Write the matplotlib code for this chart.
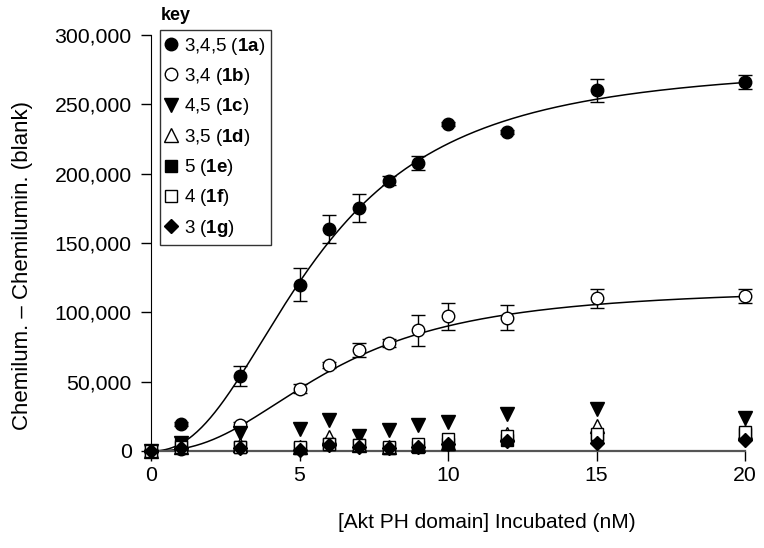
import numpy as np
import matplotlib
matplotlib.use("Agg")
import matplotlib.pyplot as plt
from matplotlib.ticker import StrMethodFormatter
from matplotlib.lines import Line2D

plt.rcParams['font.family'] = ['Liberation Sans', 'DejaVu Sans']
plt.rcParams['mathtext.fontset'] = 'custom'
plt.rcParams['mathtext.rm'] = 'Liberation Sans'
plt.rcParams['mathtext.bf'] = 'Liberation Sans:bold'

conc = [0, 1, 3, 5, 6, 7, 8, 9, 10, 12, 15, 20]
s1a = [0, 19500, 54000, 120000, 160000, 175000, 195000, 208000, 236000, 230000, 260000, 266000]
s1a_err = [1000, 1500, 7000, 12000, 10000, 10000, 3000, 5000, 1500, 1500, 8000, 5000]
s1b = [0, 1500, 19000, 45000, 62000, 73000, 78000, 87000, 97000, 96000, 110000, 112000]
s1b_err = [1000, 1000, 2000, 3000, 2000, 5000, 3000, 11000, 10000, 9000, 7000, 5000]
s1c = [0, 6000, 13000, 16000, 22000, 11000, 15000, 19000, 21000, 27000, 30000, 24000]
s1d = [0, 3000, 4000, 3000, 10000, 4000, 3000, 4000, 6000, 12000, 18000, 14000]
s1e = [0, 4000, 3000, 2000, 5000, 4000, 2000, 3000, 5000, 8000, 10000, 12000]
s1f = [0, 3000, 3000, 3000, 5000, 4000, 3000, 5000, 9000, 11000, 12000, 14000]
s1g = [0, 2000, 2000, 1000, 4000, 3000, 2000, 3000, 5000, 7000, 6000, 8000]

# Hill fit parameters (top, EC50, slope)
fit_1a = (280000, 5.6, 2.3)
fit_1b = (118000, 6.13, 2.4)

labels = ["3,4,5 ($\\mathbf{1a}$)", "3,4 ($\\mathbf{1b}$)", "4,5 ($\\mathbf{1c}$)",
          "3,5 ($\\mathbf{1d}$)", "5 ($\\mathbf{1e}$)", "4 ($\\mathbf{1f}$)", "3 ($\\mathbf{1g}$)"]

fig = plt.figure(figsize=(7.64, 5.48), dpi=100)
ax = fig.add_axes([151/764, 1-451/548, (745-151)/764, (451-35)/548])

def hill(x, p):
    top, k, n = p
    return top * x**n / (k**n + x**n)

xx = np.linspace(0, 20, 400)
ax.plot(xx, hill(xx, fit_1a), color='black', lw=1.1, zorder=2)
ax.plot(xx, hill(xx, fit_1b), color='black', lw=1.1, zorder=2)

ms = 9
styles = [
    dict(marker='o', mfc='black', mec='black', ms=ms),
    dict(marker='o', mfc='white', mec='black', ms=ms, mew=1),
    dict(marker='v', mfc='black', mec='black', ms=ms + 1),
    dict(marker='^', mfc='white', mec='black', ms=ms + 1, mew=1),
    dict(marker='s', mfc='black', mec='black', ms=ms - 1),
    dict(marker='s', mfc='white', mec='black', ms=ms - 1, mew=1),
    dict(marker='D', mfc='black', mec='black', ms=ms - 2),
]

ax.errorbar(conc, s1a, yerr=s1a_err, fmt='none', ecolor='black',
            capsize=5, elinewidth=1, capthick=1, clip_on=False, zorder=3)
ax.errorbar(conc, s1b, yerr=s1b_err, fmt='none', ecolor='black',
            capsize=5, elinewidth=1, capthick=1, clip_on=False, zorder=3)
for series, st in zip([s1a, s1b, s1c, s1d, s1e, s1f, s1g], styles):
    ax.plot(conc, series, ls='none', clip_on=False, zorder=4, **st)

ax.set_xlim(0, 20)
ax.set_ylim(0, 300000)
ax.set_xticks([0, 5, 10, 15, 20])
ax.set_yticks(np.arange(0, 300001, 50000))
ax.yaxis.set_major_formatter(StrMethodFormatter('{x:,.0f}'))
ax.spines['top'].set_visible(False)
ax.spines['right'].set_visible(False)
ax.spines['bottom'].set_color('#555555')
ax.spines['bottom'].set_linewidth(1.6)
ax.tick_params(direction='out', length=7, width=1, labelsize=15.3, colors='black')
ax.tick_params(axis='x', pad=4)
ax.tick_params(axis='y', pad=7)

ax.set_xlabel('[Akt PH domain] Incubated (nM)', fontsize=15)
ax.xaxis.set_label_coords((486.5 - 151) / 594, (451 - 513) / 416)
ax.set_ylabel('Chemilum. \u2013 Chemilumin. (blank)', fontsize=16)
ax.yaxis.set_label_coords((33 - 151) / 594, (451 - 265) / 416)

handles = [Line2D([], [], ls='none', **st) for st in styles]
leg = fig.legend(handles, labels, loc='upper left', bbox_to_anchor=(160/764, 1-30/548),
                 fontsize=13.5, frameon=True, fancybox=False, edgecolor='black',
                 handlelength=0.6, handletextpad=0.4, labelspacing=0.5,
                 borderpad=0.3, borderaxespad=0, numpoints=1)
leg.get_frame().set_linewidth(1.0)
fig.text(161/764, 1-15/548, 'key', fontsize=13, fontweight='bold', va='center', ha='left')

fig.savefig('out.png', dpi=100)
